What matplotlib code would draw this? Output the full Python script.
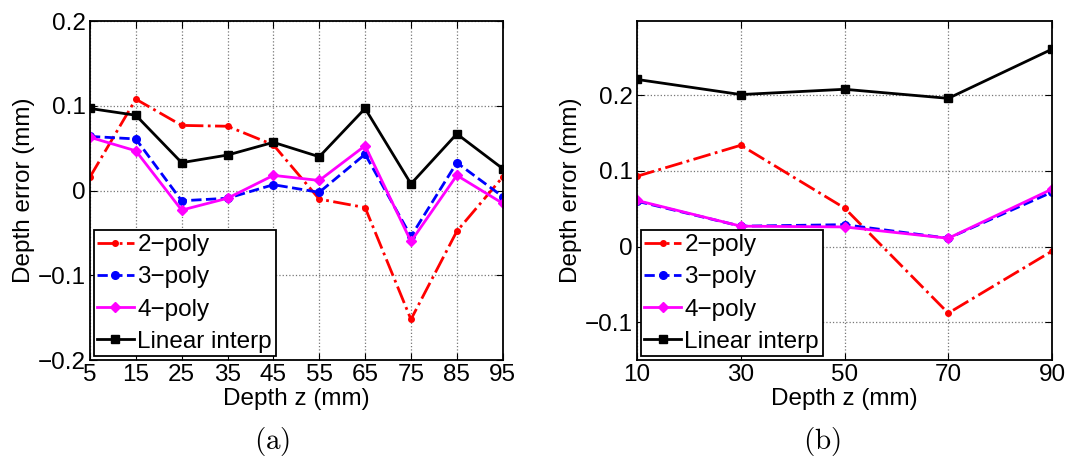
import numpy as np
import matplotlib
matplotlib.use("Agg")
import matplotlib.pyplot as plt

plt.rcParams['font.family'] = ['Liberation Sans', 'DejaVu Sans']
plt.rcParams['mathtext.fontset'] = 'cm'

# --- data (a) ---
z_a = [5, 15, 25, 35, 45, 55, 65, 75, 85, 95]
poly2_a = [0.016, 0.108, 0.077, 0.076, 0.054, -0.010, -0.020, -0.152, -0.048, 0.016]
poly3_a = [0.064, 0.061, -0.012, -0.009, 0.007, -0.002, 0.043, -0.054, 0.033, -0.007]
poly4_a = [0.063, 0.047, -0.023, -0.009, 0.018, 0.012, 0.053, -0.060, 0.018, -0.015]
lin_a = [0.097, 0.089, 0.033, 0.042, 0.057, 0.040, 0.097, 0.008, 0.067, 0.026]

# --- data (b) ---
z_b = [10, 30, 50, 70, 90]
poly2_b = [0.093, 0.134, 0.051, -0.088, -0.006]
poly3_b = [0.060, 0.027, 0.029, 0.011, 0.072]
poly4_b = [0.061, 0.027, 0.026, 0.011, 0.076]
lin_b = [0.221, 0.201, 0.208, 0.196, 0.261]

labels = ['2\u2212poly', '3\u2212poly', '4\u2212poly', 'Linear interp']
FS = 17.5


def draw(ax, z, p2, p3, p4, lin):
    ax.plot(z, p2, color='red', ls='-.', lw=2, marker='.', ms=8, label=labels[0])
    ax.plot(z, p3, color='blue', ls='--', lw=2, marker='o', ms=5.5, label=labels[1])
    ax.plot(z, p4, color='magenta', ls='-', lw=2, marker='D', ms=5.5, label=labels[2])
    ax.plot(z, lin, color='black', ls='-', lw=2, marker='s', ms=5.5, label=labels[3])
    ax.grid(True, ls=':', color='#777777', lw=0.9)
    ax.tick_params(direction='in', top=True, right=True, labelsize=FS, length=5, pad=3)
    for s in ax.spines.values():
        s.set_linewidth(1.3)
    ax.set_xlabel('Depth z (mm)', fontsize=FS, labelpad=1)
    ax.set_ylabel('Depth error (mm)', fontsize=FS, labelpad=2)
    leg = ax.legend(loc='lower left', fontsize=FS, handlelength=1.5, handletextpad=0.15,
                    borderpad=0.15, labelspacing=0.42, borderaxespad=0.15, fancybox=False,
                    framealpha=1, edgecolor='black')
    leg.get_frame().set_linewidth(1.3)


fig = plt.figure(figsize=(10.89, 4.61), dpi=100)

ax1 = fig.add_axes([0.0826, 0.219, 0.379, 0.735])
draw(ax1, z_a, poly2_a, poly3_a, poly4_a, lin_a)
ax1.set_xlim(5, 95)
ax1.set_ylim(-0.2, 0.2)
ax1.set_xticks(z_a)
ax1.set_yticks([-0.2, -0.1, 0, 0.1, 0.2])
ax1.set_yticklabels(['\u22120.2', '\u22120.1', '0', '0.1', '0.2'])

ax2 = fig.add_axes([0.585, 0.219, 0.381, 0.735])
draw(ax2, z_b, poly2_b, poly3_b, poly4_b, lin_b)
ax2.set_xlim(10, 90)
ax2.set_ylim(-0.15, 0.298)
ax2.set_xticks(z_b)
ax2.set_yticks([-0.1, 0, 0.1, 0.2])
ax2.set_yticklabels(['\u22120.1', '0', '0.1', '0.2'])

fig.text(0.25, 0.042, r'$\mathrm{(a)}$', ha='center', va='center', fontsize=21)
fig.text(0.755, 0.042, r'$\mathrm{(b)}$', ha='center', va='center', fontsize=21)

fig.savefig('out.png', dpi=100)
